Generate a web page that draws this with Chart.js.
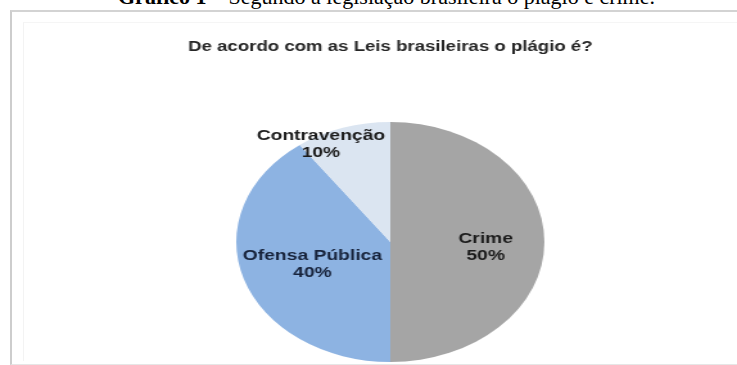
<!DOCTYPE html>
<html>
<head>
<meta charset="utf-8">
<script src="https://cdn.jsdelivr.net/npm/chart.js@4.4.1/dist/chart.umd.min.js"></script>
<style>
  html, body { margin: 0; padding: 0; background: #fff; }
  #page { position: relative; width: 737px; height: 365px; overflow: hidden; background: #fff; }
  #caption { position: absolute; left: 118px; top: -16px; font-family: "Liberation Serif", "Times New Roman", serif; font-size: 22px; line-height: 26px; color: #000; white-space: nowrap; }
  #frame { position: absolute; left: 10px; top: 10px; width: 740px; height: 352px; border-left: 2px solid #cdcdcd; border-top: 2px solid #d3d3d3; border-bottom: 1px solid #e6e6e6; }
  #inner { position: absolute; left: 23px; top: 22px; width: 720px; height: 338px; border-left: 1px solid #f3f3f3; border-top: 1px solid #f5f5f5; }
  #wrap { position: absolute; left: 0; top: 0; width: 574px; height: 365px; transform: scaleX(1.284); transform-origin: 0 0; }
</style>
</head>
<body>
<div id="page">
  <div id="caption"><b>Gráfico 1</b> – Segundo a legislação brasileira o plágio é crime.</div>
  <div id="frame"></div>
  <div id="inner"></div>
  <div id="wrap"><canvas id="c"></canvas></div>
</div>
<script>
const chartTitle = "De acordo com as Leis brasileiras o plágio é?";
const categories = ["Crime", "Ofensa Pública", "Contravenção"];
const percentValues = [50, 40, 10];
const sliceColors = ["#a5a5a5", "#8db3e2", "#dbe5f1"];

// label placement relative to each slice: fraction of radius and angle shift (deg)
const labelPlacement = [
  { frac: 0.62, shift: 4 },
  { frac: 0.54, shift: -2.5 },
  { frac: 0.93, shift: -11 }
];

const sliceLabels = {
  id: 'sliceLabels',
  afterDatasetsDraw(chart) {
    const ctx = chart.ctx;
    const meta = chart.getDatasetMeta(0);
    ctx.save();
    ctx.font = 'bold 15px "Liberation Sans", Arial, sans-serif';
    ctx.textAlign = 'center';
    ctx.textBaseline = 'middle';
    meta.data.forEach((arc, i) => {
      const p = arc.getProps(['x', 'y', 'startAngle', 'endAngle', 'outerRadius'], true);
      const mid = (p.startAngle + p.endAngle) / 2 + labelPlacement[i].shift * Math.PI / 180;
      const r = p.outerRadius * labelPlacement[i].frac;
      const x = p.x + Math.cos(mid) * r;
      const y = p.y + Math.sin(mid) * r;
      ctx.fillStyle = i === 1 ? '#17233b' : '#1c1c1c';
      ctx.fillText(categories[i], x, y - 8.5);
      ctx.fillText(percentValues[i] + '%', x, y + 8.5);
    });
    ctx.restore();
  }
};

new Chart(document.getElementById('c'), {
  type: 'pie',
  data: {
    labels: categories,
    datasets: [{
      data: percentValues,
      backgroundColor: sliceColors,
      borderWidth: 0
    }]
  },
  options: {
    responsive: true,
    maintainAspectRatio: false,
    animation: false,
    layout: { padding: { left: 34, right: 0, top: 0, bottom: 3 } },
    plugins: {
      legend: { display: false },
      tooltip: { enabled: false },
      title: {
        display: true,
        text: chartTitle,
        color: '#262626',
        font: { family: '"Liberation Sans", Arial, sans-serif', size: 14.5, weight: 'bold', lineHeight: 1.2 },
        padding: { top: 38, bottom: 66.6 }
      }
    }
  },
  plugins: [sliceLabels]
});
</script>
</body>
</html>
